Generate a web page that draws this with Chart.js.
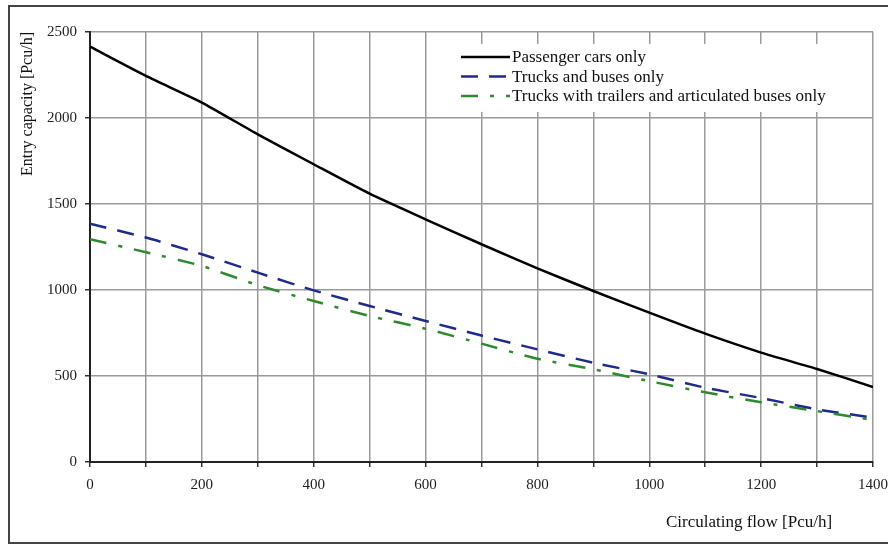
<!DOCTYPE html>
<html>
<head>
<meta charset="utf-8">
<title>Entry capacity</title>
<script src="https://cdn.jsdelivr.net/npm/chart.js@4.4.1/dist/chart.umd.min.js"></script>
<style>
	html, body { margin: 0; padding: 0; background: #ffffff; }
	canvas { display: block; }
</style>
</head>
<body>
<canvas id="capacity" width="888" height="546"></canvas>
<script>
// Entry capacity vs circulating flow

let flow = [0, 100, 200, 300, 400, 500, 600, 700, 800, 900, 1000, 1100, 1200, 1300, 1400];
let passengerCars = [2415, 2245, 2090, 1905, 1731, 1560, 1411, 1266, 1126, 994, 868, 746, 636, 541, 436];
let trucksBuses = [1385, 1305, 1208, 1101, 998, 907, 820, 735, 655, 577, 510, 432, 372, 306, 258];
let trucksTrailers = [1295, 1220, 1140, 1028, 936, 849, 775, 688, 600, 539, 470, 405, 347, 296, 244];

let seriesLabels = [
	'Passenger cars only',
	'Trucks and buses only',
	'Trucks with trailers and articulated buses only'
];
let seriesColors = ['#000000', '#1f2a8c', '#2d8a2d'];
let seriesDashes = [[], [17, 11], [17, 12, 4, 12]];

let xTitle = 'Circulating flow [Pcu/h]';
let yTitle = 'Entry capacity [Pcu/h]';

let serif = '"Liberation Serif", "Times New Roman", serif';

let points = function(values) {
	let out = [];
	for (let i = 0; i < flow.length; i++) {
		out.push({ x: flow[i], y: values[i] });
	}
	return out;
};

// frame, legend box and x title
let decorPlugin = {
	id: 'decor',
	beforeDraw: function(chart) {
		let c = chart.ctx;
		c.save();
		c.fillStyle = '#ffffff';
		c.fillRect(0, 0, chart.width, chart.height);
		c.strokeStyle = '#444444';
		c.lineWidth = 2;
		c.strokeRect(9, 6, chart.width + 20, chart.height - 9);
		c.restore();
	},
	afterDraw: function(chart) {
		let c = chart.ctx;
		let area = chart.chartArea;
		c.save();

		// legend
		let boxLeft = area.left + 355;
		let boxTop = area.top + 12;
		c.fillStyle = '#ffffff';
		c.fillRect(boxLeft, boxTop, 400, 68);

		c.font = '17px ' + serif;
		c.textBaseline = 'middle';
		c.textAlign = 'left';
		for (let i = 0; i < seriesLabels.length; i++) {
			let y = boxTop + 13 + i * 19.5;
			c.beginPath();
			c.strokeStyle = seriesColors[i];
			c.lineWidth = 2.5;
			c.setLineDash(seriesDashes[i]);
			c.moveTo(boxLeft + 16, y);
			c.lineTo(boxLeft + 65, y);
			c.stroke();
			c.setLineDash([]);
			c.fillStyle = '#111111';
			c.fillText(seriesLabels[i], boxLeft + 67, y + 1);
		}

		// x axis title
		c.font = '17px ' + serif;
		c.textAlign = 'center';
		c.fillStyle = '#111111';
		c.fillText(xTitle, area.right - 124, 523);
		c.restore();
	}
};

let makeDataset = function(i, values) {
	return {
		label: seriesLabels[i],
		data: points(values),
		borderColor: seriesColors[i],
		borderDash: seriesDashes[i],
		borderWidth: 2.5,
		fill: false,
		tension: 0.2,
		pointRadius: 0
	};
};

let capacityChart = new Chart(document.getElementById('capacity').getContext('2d'), {
	type: 'line',
	data: {
		datasets: [
			makeDataset(2, trucksTrailers),
			makeDataset(1, trucksBuses),
			makeDataset(0, passengerCars)
		]
	},
	options: {
		responsive: false,
		animation: false,
		layout: {
			padding: { top: 32, right: 15, left: 14, bottom: 0 }
		},
		plugins: {
			legend: { display: false },
			tooltip: { enabled: false }
		},
		scales: {
			x: {
				type: 'linear',
				min: 0,
				max: 1400,
				afterFit: function(scale) {
					scale.height = 84;
					scale.paddingLeft = 0;
					scale.paddingRight = 0;
				},
				ticks: {
					stepSize: 100,
					autoSkip: false,
					maxRotation: 0,
					padding: 9,
					color: '#222222',
					font: { family: serif, size: 15 },
					callback: function(value) {
						return value % 200 === 0 ? String(value) : '';
					}
				},
				grid: {
					color: '#9a9a9a',
					lineWidth: 1.5,
					tickLength: 5,
					tickColor: '#333333'
				},
				border: { color: '#222222', width: 2 }
			},
			y: {
				min: 0,
				max: 2500,
				afterFit: function(scale) { scale.width = 76; },
				ticks: {
					stepSize: 500,
					padding: 8,
					color: '#222222',
					font: { family: serif, size: 15 },
					callback: function(value) {
						return String(value);
					}
				},
				grid: {
					color: '#9a9a9a',
					lineWidth: 1.5,
					tickLength: 5,
					tickColor: '#333333'
				},
				border: { color: '#222222', width: 2 },
				title: {
					display: true,
					text: yTitle,
					align: 'end',
					color: '#111111',
					font: { family: serif, size: 16 }
				}
			}
		}
	},
	plugins: [decorPlugin]
});
</script>
</body>
</html>
